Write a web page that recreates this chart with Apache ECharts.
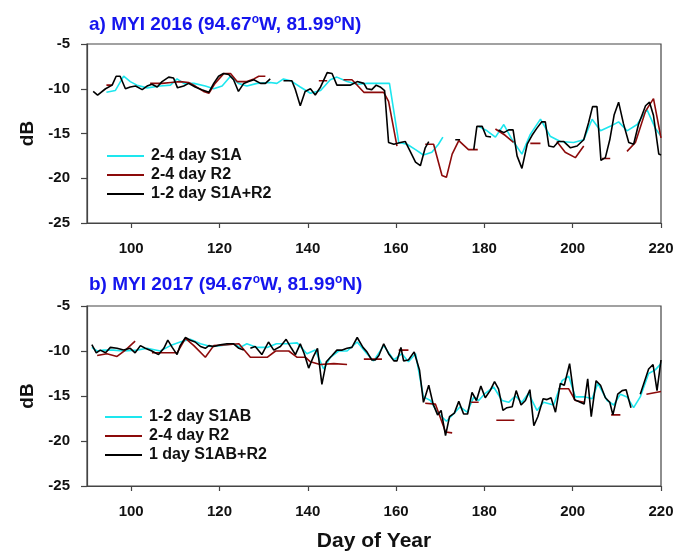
<!DOCTYPE html>
<html>
<head>
<meta charset="utf-8">
<script src="https://cdn.jsdelivr.net/npm/echarts@6/dist/echarts.min.js"></script>
<style>
html, body { margin: 0; padding: 0; background: #fff; }
#chart { width: 691px; height: 554px; }
</style>
</head>
<body>
<div id="chart"></div>
<script>
// tick labels shared by both panels
var dayTicks = [100, 120, 140, 160, 180, 200, 220];
var dbTicks = [-25, -20, -15, -10, -5];

// a) MYI 2016 -- null marks a break in the line
var aS1ADay = [94.4, 96.4, 98.3, 99.8, 101.3, 103.6, 106.6, 108.9, 110.4, 111.9,
	114.2, 116.8, 118.7, 120.6, 122.5, 124.3, 126.2, 128.5, 131.5, 133,
	134.5, 136.1, 138.3, 140.6, 142.9, 145.1, 146.6, 148.9, 151.2, 153.4,
	156.4, 158.5, 160.6, 162.5, 164.4, 166.2, 168.1, 169.6, 170.6, null,
	178.7, 180.6, 182.5, 184.4, 186.3, 188.5, 190.4, 192.7, 194.9, 197.2,
	200.2, 202.5, 204.4, 206.3, 208.5, 210.4, 212.3, 214.6, 216.8, 218.7,
	220];
var aS1AVal = [-10.4, -10.2, -8.6, -9.2, -9.6, -9.9, -9.7, -9.6, -8.9, -9.4,
	-9.4, -9.7, -10.0, -9.7, -8.6, -9.4, -9.7, -9.4, -9.3, -9.4,
	-8.9, -9.1, -9.8, -10.5, -10.2, -9.0, -8.7, -9.2, -9.5, -9.4,
	-9.4, -9.4, -16.0, -16.2, -16.8, -17.4, -17.1, -16.2, -15.4, null,
	-14.2, -14.7, -15.4, -14.0, -15.7, -17.3, -15.1, -13.4, -15.3, -15.9,
	-16.0, -15.7, -13.4, -14.7, -14.2, -13.7, -14.7, -14.0, -12.3, -14.4,
	-15.3];

var aR2Day = [94.4, 95.7, null, 104.3, 107, 109, 111.1, 113, 114.5, 116.4,
	117.6, 119, 121, 122.5, 124, 126.2, 127.8, 128.9, 130.4, null,
	142.5, 144.4, null, 148.1, 150, 151.2, 152.7, 154.9, 157.2, 158.3,
	160.2, null, 166.6, 168.5, 170.4, 171.4, 172.7, 174.2, 176.4, 178.5,
	null, 182.5, 184.7, 186.6, null, 190.4, 192.7, null, 196.4, 198.3,
	200.6, 202.5, null, 206.6, 208.5, null, 212.3, 214.2, 216.5, 218.3,
	220];
var aR2Val = [-9.6, -9.6, null, -9.4, -9.4, -9.3, -9.2, -9.3, -9.7, -10.3,
	-10.5, -9.4, -8.3, -8.3, -9.2, -9.2, -8.9, -8.6, -8.6, null,
	-9.1, -9.1, null, -9.0, -9.0, -9.6, -10.4, -10.4, -10.4, -11.4,
	-16.4, null, -16.2, -16.2, -19.7, -19.9, -17.3, -15.8, -16.8, -16.8,
	null, -14.5, -15.2, -16.0, null, -16.1, -16.1, null, -15.9, -17.1,
	-17.7, -16.4, null, -17.8, -17.8, null, -17.0, -16.0, -12.5, -11.1,
	-15.5];

var aBothDay = [91.4, 92.4, 94.2, 95.7, 96.6, 97.5, 98.7, 99.8, 101, 102.5,
	103.6, 104.7, 105.9, 107, 108.5, 109.6, 110.5, 111.9, 113, 114.5,
	116, 117.6, 118.7, 119.8, 120.9, 122.1, 123.2, 124.3, 125.5, 126.6,
	127.8, 129.3, 130.4, 131.5, null, 134.5, 136.4, 137.2, 138.3, 139.4,
	140.6, 141.7, 142.9, 144.4, 145.5, 146.6, 148.1, 149.6, 151.2, 152.7,
	153.4, 154.5, 155.5, 156.4, 157.4, 158.3, 159.5, 161, 162.1, 163.2,
	164.4, 165.5, 166.6, 167.4, null, 173.4, 174.5, null, 177.6, 178.3,
	179.5, 180.4, 181.5, null, 183.2, 184.4, 185.5, 186.5, 187.4, 188.5,
	189.7, 190.8, 191.9, 193, 193.8, 194.6, 195.7, 196.8, 198, 199.5,
	201, 202.5, 203.6, 204.5, 205.5, 206.4, 207.4, 208.4, 209.4, 210.4,
	211.5, 212.7, 213.8, 214.9, 216.5, 217.4, 218.3, 219.5, 220];
var aBothVal = [-10.3, -10.7, -10.0, -9.6, -8.6, -8.6, -10.0, -9.8, -9.7, -10.1,
	-9.7, -9.5, -9.8, -9.2, -8.7, -8.8, -9.9, -9.7, -9.4, -9.8,
	-10.1, -10.4, -9.4, -8.6, -8.3, -8.4, -9.0, -10.3, -9.4, -9.2,
	-9.0, -9.4, -9.4, -8.9, null, -9.1, -9.1, -10.1, -11.9, -10.3,
	-10.0, -10.7, -9.8, -8.2, -8.3, -9.6, -9.6, -9.6, -9.2, -9.4,
	-10.0, -10.1, -9.6, -9.8, -10.2, -16.0, -16.2, -16.0, -15.9, -17.0,
	-18.2, -18.6, -16.6, -15.9, null, -15.7, -15.7, null, -16.8, -14.2,
	-14.2, -15.3, -15.4, null, -14.6, -14.9, -14.6, -14.6, -17.5, -18.9,
	-16.2, -15.2, -14.4, -13.7, -13.7, -16.4, -16.5, -15.9, -15.9, -16.6,
	-16.4, -15.7, -13.8, -12.0, -12.0, -18.0, -17.7, -15.7, -12.9, -11.5,
	-13.9, -16.0, -16.2, -14.0, -11.9, -11.5, -13.0, -17.3, -17.4];

// b) MYI 2017
var bS1ABDay = [91.1, 92.3, 93.8, 96, 98.3, 101.3, 103.6, 106.6, 108.9, 111.1,
	113.4, 115.7, 118, 120.2, 123.2, 124.7, 126.2, 128.5, 130.8, 132.9,
	135.2, 137.6, 139.8, 141.7, 143.6, 145.1, 147, 148.9, 151.2, 153.4,
	154.9, 157.2, 159.5, 161.3, 162.8, 164.4, 166.2, 167.8, 169.3, 171.4,
	173, 174.5, 176.1, 177.6, 178.7, 180.2, 182.1, 184, 185.5, 187,
	188.5, 190, 191.9, 193.4, 195.7, 197.6, 199.1, 200.6, 202.9, 204.4,
	205.7, 207.8, 209.3, 210.8, 212.3, 213.8, 215.3, 217.2, 218.7, 220];
var bS1ABVal = [-9.6, -10.0, -9.9, -9.9, -10.0, -9.9, -9.7, -10.0, -9.4, -9.0,
	-8.7, -9.2, -9.5, -9.4, -9.2, -9.6, -9.2, -9.6, -9.6, -9.2,
	-9.2, -9.1, -10.3, -9.9, -12.0, -10.7, -10.0, -10.0, -9.0, -10.3,
	-11.1, -9.4, -11.0, -10.3, -11.2, -10.3, -15.1, -15.5, -16.8, -17.8,
	-17.0, -16.2, -16.8, -15.1, -15.5, -14.7, -14.0, -15.5, -15.7, -15.0,
	-15.7, -14.7, -16.6, -15.7, -16.0, -13.3, -12.8, -15.1, -15.1, -15.3,
	-13.6, -15.5, -16.0, -14.8, -15.1, -16.3, -15.1, -12.5, -12.1, -11.4];

var bR2Day = [92.3, 94.5, 96.8, 98.7, 100.9, null, 104.7, 110.4, 112.3, 114.2,
	116.8, 118.7, 121.7, 124.4, 127, 130.8, 132.7, 135.7, 137.6, 139.5,
	140.6, 142.8, 145.9, 148.9, null, 152.7, 156.8, null, 160.6, 162.8,
	null, 166.6, 168.9, 171.2, 172.7, null, 177, 178.7, null, 182.7,
	186.8, null, 196.8, 199.1, 200.6, 202.6, null, 208.7, 210.8, null,
	216.7, 220];
var bR2Val = [-10.5, -10.3, -10.6, -9.9, -8.9, null, -10.2, -10.2, -8.6, -9.4,
	-10.7, -9.4, -9.3, -9.2, -10.7, -10.7, -10.0, -10.0, -10.7, -10.7,
	-11.2, -11.5, -11.4, -11.5, null, -10.9, -10.9, null, -9.9, -9.9,
	null, -15.8, -15.9, -19.0, -19.1, null, -15.7, -15.7, null, -17.7,
	-17.7, null, -14.2, -14.2, -15.5, -15.7, null, -17.1, -17.1, null,
	-14.8, -14.5];

var bBothDay = [91.1, 92.1, 93, 94.2, 95.3, 96.8, 98.3, 99.8, 100.9, 102.1,
	103.2, 104.7, 106.2, 107.4, 108.3, 109.3, 110.4, 111.1, 112.3, 113.4,
	114.5, 115.7, 116.8, 117.6, 118.7, 120.2, 121.7, 123.2, 124.4, 125.5,
	null, 127, 128.1, 129.6, 131.1, 132.3, 133.8, 135.1, 136.3, 137.2,
	138.3, 139.2, 140.2, 141.3, 142.2, 143.2, 144.2, 145.5, 146.6, 147.8,
	148.9, 150, 151.2, 152.5, 153.4, 154.5, 155.3, 156.1, 157.2, 158.3,
	159.5, 160.2, 161.1, 161.7, 162.8, 164.1, 165.3, 166.2, 167.4, 168.4,
	169.4, 170.2, 171.2, 172.1, 173.2, 174.2, 175.3, 176.2, 177.2, 178.2,
	179.2, 180.2, 181.3, 182.3, 183.2, 184.2, 185.1, 186.3, 187.2, 188.3,
	189.3, 190.3, 191.2, 192.1, 193.3, 194.2, 195.1, 196.1, 197.2, 198.1,
	199.3, 200.4, 201.7, 202.6, 203.4, 204.2, 205.3, 206.3, 207.4, 208.4,
	209.1, 210.2, 211.2, 212.1, 213.2, null, 215.3, 217.2, 218.2, 219.1,
	220];
var bBothVal = [-9.3, -10.2, -9.9, -10.2, -9.6, -9.7, -9.9, -9.7, -10.2, -9.4,
	-9.7, -10.0, -10.4, -9.7, -8.8, -9.6, -10.4, -9.4, -8.5, -8.8,
	-9.0, -9.5, -9.7, -9.4, -9.5, -9.3, -9.2, -9.2, -9.7, -9.9,
	null, -9.7, -9.5, -10.4, -9.0, -9.9, -9.5, -8.7, -9.7, -10.4,
	-9.2, -10.3, -11.9, -10.6, -9.7, -13.7, -11.2, -10.5, -9.9, -9.9,
	-9.7, -9.6, -8.5, -9.6, -10.1, -11.0, -11.0, -10.5, -9.2, -10.3,
	-11.1, -11.1, -9.6, -11.1, -11.0, -10.1, -12.1, -15.7, -13.8, -15.9,
	-17.1, -16.6, -19.4, -17.3, -16.9, -15.6, -17.0, -17.0, -14.6, -15.5,
	-13.9, -15.2, -14.4, -13.4, -14.2, -16.6, -16.3, -16.2, -14.4, -16.0,
	-15.5, -14.3, -18.3, -17.3, -15.3, -15.4, -15.2, -16.8, -13.6, -13.8,
	-11.4, -15.4, -15.7, -15.9, -13.1, -17.3, -13.3, -13.8, -15.2, -15.7,
	-17.1, -14.8, -14.4, -14.3, -16.3, null, -14.8, -12.0, -11.5, -14.4,
	-11.0];

var FONT = '"Liberation Sans", Arial, sans-serif';
var CYAN = '#1de6ee';
var RED = '#8c0a0a';
var BLACK = '#000000';
var BLUE = '#1515ee';

function pairs(days, vals) {
	return days.map(function (d, i) {
		var v = vals[i];
		return [d === null ? '-' : d, v === null ? '-' : v];
	});
}

function xAxisFor(idx, name) {
	return {
		type: 'value',
		gridIndex: idx,
		min: 90,
		max: 220,
		name: name,
		nameLocation: 'middle',
		nameGap: 45,
		nameTextStyle: { fontFamily: FONT, fontSize: 21, fontWeight: 'bold', color: '#111' },
		axisLine: { show: true, lineStyle: { color: '#444', width: 1.2 } },
		axisTick: { show: true, length: 5, customValues: dayTicks, lineStyle: { color: '#444', width: 1.2 } },
		axisLabel: { customValues: dayTicks, margin: 18, fontFamily: FONT, fontSize: 15, fontWeight: 'bold', color: '#111' },
		splitLine: { show: false }
	};
}

function yAxisFor(idx) {
	return {
		type: 'value',
		gridIndex: idx,
		min: dbTicks[0],
		max: dbTicks[dbTicks.length - 1],
		interval: 5,
		name: 'dB',
		nameLocation: 'middle',
		nameGap: 48,
		nameTextStyle: { fontFamily: FONT, fontSize: 19, fontWeight: 'bold', color: '#111' },
		axisLine: { show: true, lineStyle: { color: '#444', width: 1.2 } },
		axisTick: { show: true, length: 6, lineStyle: { color: '#444', width: 1.2 } },
		axisLabel: { margin: 17, fontFamily: FONT, fontSize: 15, fontWeight: 'bold', color: '#111' },
		splitLine: { show: false }
	};
}

function lineSeries(name, idx, data, color) {
	return {
		name: name,
		type: 'line',
		xAxisIndex: idx,
		yAxisIndex: idx,
		data: data,
		symbol: 'none',
		connectNulls: false,
		silent: true,
		lineStyle: { color: color, width: 1.6 },
		itemStyle: { color: color }
	};
}

function titleFor(top, label) {
	return {
		left: 84,
		top: top,
		text: '{t|' + label + ' (94.67}{s|o}{t|W, 81.99}{s|o}{t|N)}',
		textStyle: {
			rich: {
				t: { fontFamily: FONT, fontSize: 19, fontWeight: 'bold', color: BLUE, lineHeight: 22 },
				s: { fontFamily: FONT, fontSize: 12, fontWeight: 'bold', color: BLUE, verticalAlign: 'top', lineHeight: 12 }
			}
		}
	};
}

// plain line icon, no marker dot
function legendFor(left, top, names) {
	return {
		data: names,
		orient: 'vertical',
		left: left,
		top: top,
		icon: 'rect',
		itemWidth: 37,
		itemHeight: 2,
		itemGap: 3,
		selectedMode: false,
		textStyle: { fontFamily: FONT, fontSize: 16, fontWeight: 'bold', color: '#111', padding: [0, 0, 0, 2] }
	};
}

var chart = echarts.init(document.getElementById('chart'));
chart.setOption({
	animation: false,
	backgroundColor: '#fff',
	title: [titleFor(9, 'a) MYI 2016'), titleFor(269, 'b) MYI 2017')],
	legend: [
		legendFor(102, 143, ['2-4 day S1A', '2-4 day R2', '1-2 day S1A+R2']),
		legendFor(100, 404, ['1-2 day S1AB', '2-4 day R2', '1 day S1AB+R2'])
	],
	grid: [
		{ left: 87, top: 44, width: 574, height: 179, show: true, borderColor: '#444', borderWidth: 1.2 },
		{ left: 87, top: 306, width: 574, height: 180, show: true, borderColor: '#444', borderWidth: 1.2 }
	],
	xAxis: [xAxisFor(0, ''), xAxisFor(1, 'Day of Year')],
	yAxis: [yAxisFor(0), yAxisFor(1)],
	series: [
		lineSeries('2-4 day S1A', 0, pairs(aS1ADay, aS1AVal), CYAN),
		lineSeries('2-4 day R2', 0, pairs(aR2Day, aR2Val), RED),
		lineSeries('1-2 day S1A+R2', 0, pairs(aBothDay, aBothVal), BLACK),
		lineSeries('1-2 day S1AB', 1, pairs(bS1ABDay, bS1ABVal), CYAN),
		lineSeries('2-4 day R2', 1, pairs(bR2Day, bR2Val), RED),
		lineSeries('1 day S1AB+R2', 1, pairs(bBothDay, bBothVal), BLACK)
	]
});
</script>
</body>
</html>
